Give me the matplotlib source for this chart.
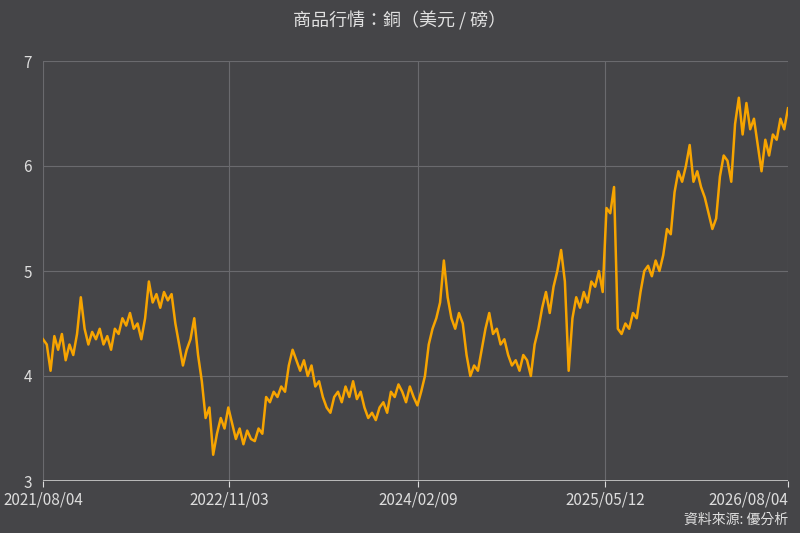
import numpy as np
import pandas as pd
import matplotlib
matplotlib.use("Agg")
import matplotlib.pyplot as plt

plt.rcParams['font.family'] = ['Noto Sans CJK TC', 'DejaVu Sans']

# precio del cobre (USD/lb)
copper = [4.35, 4.30, 4.05, 4.38, 4.25, 4.40, 4.15, 4.30, 4.20, 4.40,
          4.75, 4.45, 4.30, 4.42, 4.35, 4.45, 4.30, 4.38, 4.25, 4.45,
          4.40, 4.55, 4.48, 4.60, 4.45, 4.50, 4.35, 4.55, 4.90, 4.70,
          4.78, 4.65, 4.80, 4.72, 4.78, 4.50, 4.30, 4.10, 4.25, 4.35,
          4.55, 4.20, 3.95, 3.60, 3.70, 3.25, 3.45, 3.60, 3.50, 3.70,
          3.55, 3.40, 3.50, 3.35, 3.48, 3.40, 3.38, 3.50, 3.45, 3.80,
          3.75, 3.85, 3.80, 3.90, 3.85, 4.10, 4.25, 4.15, 4.05, 4.15,
          4.00, 4.10, 3.90, 3.95, 3.80, 3.70, 3.65, 3.80, 3.85, 3.75,
          3.90, 3.80, 3.95, 3.78, 3.85, 3.70, 3.60, 3.65, 3.58, 3.70,
          3.75, 3.65, 3.85, 3.80, 3.92, 3.85, 3.75, 3.90, 3.80, 3.72,
          3.85, 4.00, 4.30, 4.45, 4.55, 4.70, 5.10, 4.75, 4.55, 4.45,
          4.60, 4.50, 4.20, 4.00, 4.10, 4.05, 4.25, 4.45, 4.60, 4.40,
          4.45, 4.30, 4.35, 4.20, 4.10, 4.15, 4.05, 4.20, 4.15, 4.00,
          4.30, 4.45, 4.65, 4.80, 4.60, 4.85, 5.00, 5.20, 4.90, 4.05,
          4.55, 4.75, 4.65, 4.80, 4.70, 4.90, 4.85, 5.00, 4.80, 5.60,
          5.55, 5.80, 4.45, 4.40, 4.50, 4.45, 4.60, 4.55, 4.80, 5.00,
          5.05, 4.95, 5.10, 5.00, 5.15, 5.40, 5.35, 5.75, 5.95, 5.85,
          6.00, 6.20, 5.85, 5.95, 5.80, 5.70, 5.55, 5.40, 5.50, 5.90,
          6.10, 6.05, 5.85, 6.40, 6.65, 6.30, 6.60, 6.35, 6.45, 6.20,
          5.95, 6.25, 6.10, 6.30, 6.25, 6.45, 6.35, 6.55]
dates = pd.date_range('2021-08-04', '2026-08-04', periods=len(copper))
tick_dates = pd.to_datetime(['2021-08-04', '2022-11-03', '2024-02-09', '2025-05-12', '2026-08-04'])
tick_labels = ['2021/08/04', '2022/11/03', '2024/02/09', '2025/05/12', '2026/08/04']

bg = '#454548'
fig = plt.figure(figsize=(8, 5.33), dpi=100, facecolor=bg)
ax = fig.add_axes([43/800, 52/533, 745/800, 420/533], facecolor=bg)
ax.plot(dates, copper, color='#f7a400', lw=1.8)

ax.set_xlim(dates[0], dates[-1])
ax.set_ylim(3, 7)
ax.set_yticks([3, 4, 5, 6, 7])
ax.set_xticks(tick_dates)
ax.set_xticklabels(tick_labels)
ax.get_xticklabels()[-1].set_horizontalalignment('right')
ax.get_xticklabels()[0].set_horizontalalignment('center')
ax.grid(color='#6a6a6e', lw=0.8)
for s in ax.spines.values():
    s.set_visible(False)
ax.axhline(3, color='#cfcfcf', lw=1.2)
ax.tick_params(colors='#dddddd', labelsize=11, length=4)
ax.tick_params(axis='y', length=0, pad=8)

fig.text(0.5, 0.96, '商品行情：銅（美元 / 磅）', color='#e0e0e0', fontsize=13,
         ha='center', va='center')
fig.text(0.985, 0.012, '資料來源: 優分析', color='#e0e0e0', fontsize=10,
         ha='right', va='bottom')
fig.savefig('out.png', dpi=100, facecolor=bg)
